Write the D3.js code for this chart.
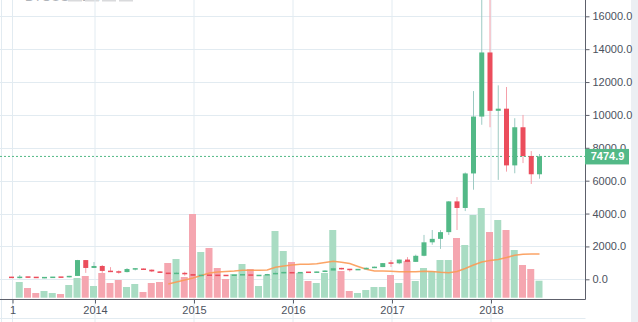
<!DOCTYPE html>
<html><head><meta charset="utf-8">
<script src="https://cdn.jsdelivr.net/npm/d3@7"></script>
<style>html,body{margin:0;padding:0;background:#fff;overflow:hidden}svg{display:block}</style>
</head><body>
<svg id="c" width="638" height="322"></svg>
<script>
// ---- data (monthly candles, Mar 2013 – Jul 2018) ----
const months = ["2013-03","2013-04","2013-05","2013-06","2013-07","2013-08","2013-09","2013-10","2013-11","2013-12",
"2014-01","2014-02","2014-03","2014-04","2014-05","2014-06","2014-07","2014-08","2014-09","2014-10",
"2014-11","2014-12","2015-01","2015-02","2015-03","2015-04","2015-05","2015-06","2015-07","2015-08",
"2015-09","2015-10","2015-11","2015-12","2016-01","2016-02","2016-03","2016-04","2016-05","2016-06",
"2016-07","2016-08","2016-09","2016-10","2016-11","2016-12","2017-01","2017-02","2017-03","2017-04",
"2017-05","2017-06","2017-07","2017-08","2017-09","2017-10","2017-11","2017-12","2018-01","2018-02",
"2018-03","2018-04","2018-05","2018-06","2018-07"];
const open = [140,95,140,130,97,106,135,125,205,1170, 690,810,510,450,440,625,640,585,480,387,
 338,378,320,217,254,244,236,230,263,284, 230,236,314,378,430,369,437,416,448,531,
 673,624,573,608,700,745,1000,975,1200,1060, 1430,2250,2460,2870,4740,4340,6440,9900,13800,10250,
 10380,6930,9250,7500,6390];
const high = [150,260,150,135,110,140,140,210,1180,1175, 1050,870,740,540,680,680,660,600,500,415,
 460,460,330,265,300,262,248,268,315,285, 245,330,500,470,465,445,440,470,550,780,
 700,630,630,720,770,990,1170,1200,1350,1500, 2700,3000,2990,4760,5000,6500,11450,19700,17200,11800,
 11700,9800,10000,7800,7620];
const low = [90,50,95,90,65,100,115,115,200,390, 680,390,440,340,420,540,570,440,380,285,
 320,220,170,200,240,210,225,220,253,200, 225,235,300,350,350,365,390,410,435,530,
 600,470,570,600,680,740,750,920,890,1060, 1400,2100,1850,2700,3000,4150,5450,9400,9250,6050,
 6550,6450,7070,5800,6120];
const close = [95,140,130,97,106,135,125,205,1170,690, 810,510,450,440,625,640,585,480,387,338,
 378,320,217,254,244,236,230,263,284,230, 236,314,378,430,369,437,416,448,531,673,
 624,573,608,700,745,985,975,1200,1060,1430, 2250,2460,2870,4740,4340,6440,9900,13800,10250,10380,
 6930,9250,7500,6390,7474.9];
const volume = [0,15.7,9.7,4.7,6.7,4.7,3.7,12.7,19.7,21.7, 11.7,24.7,14.7,17.7,10.7,13.7,5.7,14.7,15.7,34.7,
 38.7,20.7,83.7,45.7,49.7,29.7,18.7,23.7,33.7,28.7, 11.7,22.7,66.7,46.7,35.7,24.7,16.7,14.7,24.7,67.7,
 26.7,6.7,4.7,7.7,10.7,10.7,22.7,14.7,36.7,16.7, 29.7,26.7,37.7,37.7,59.7,52.7,82.7,89.7,65.7,77.7,
 67.7,47.7,32.7,28.7,17];
const volumeMA = [null,null,null,null,null,null,null,null,null,null, null,null,null,null,null,null,null,null,null,13.7,
 15.7,17.7,19.7,22.2,24.7,25.7,26.2,26.7,27.4,27.4, 27.4,27.7,30.4,31.7,32.7,33.4,33.4,34,35.2,36.4,
 35.4,34.2,31.2,28.4,26.7,26.7,26.4,25.9,26,26, 26.4,26.2,25.4,25,26.2,29.2,32.7,35.7,37.2,38.2,
 40.2,42.4,43.4,43.7,43.7];
const priceTicks = [0,2000,4000,6000,8000,10000,12000,14000,16000];
const timeTickIndex = [0,10,22,34,46,58];
const timeTickLabels = ["1","2014","2015","2016","2017","2018"];
const lastPrice = 7474.9;

// ---- drawing ----
const svg = d3.select("#c");
const plotR = 585.5, plotB = 299.5;
const UP = "#53b987", DOWN = "#eb4d5c";
const UPW = "#9dcac3", DOWNW = "#f5a0aa";
const UPV = "#a9dcc3", DOWNV = "#f5a6b0";
const GRID = "#e2ebf1", TXT = "#4c525e", AX = "#5d606b";
const FONT = "'Liberation Sans', Arial, sans-serif";

const x = d3.scaleLinear().domain([0, 64]).range([11.5, 11.5 + 64 * 8.25]);
const xg = d3.scaleLinear().domain([0, 64]).range([12.5, 12.5 + 64 * 8.25]);
const y = d3.scaleLinear().domain([0, 16000]).range([279.3, 16.3]);
const yv = d3.scaleLinear().domain([0, 100]).range([297.7, 197.7]);
const idx = d3.range(months.length);

svg.append("rect").attr("width", 638).attr("height", 322).attr("fill", "#fff");
svg.append("rect").attr("x", 631).attr("y", 0).attr("width", 7).attr("height", 322).attr("fill", "#eceff3");

// header remnants (cut off at top, as in the reference)
svg.append("text").attr("x", 25).attr("y", 1.2).attr("font-family", FONT).attr("font-size", 13)
  .attr("fill", "#b0b4ba").text("BTCUSD 1M");
[68, 85, 102, 119].forEach(v => svg.append("rect").attr("x", v).attr("y", -9).attr("width", 14)
  .attr("height", 10.5).attr("fill", "#d9dadc"));

// grid
const grid = svg.append("g");
grid.selectAll(".h").data(priceTicks).join("line")
  .attr("x1", 0).attr("x2", plotR).attr("y1", d => Math.round(y(d)) + 0.5).attr("y2", d => Math.round(y(d)) + 0.5)
  .attr("stroke", GRID);
grid.append("line").attr("x1", 0).attr("x2", plotR).attr("y1", 318.5).attr("y2", 318.5).attr("stroke", GRID);
grid.append("line").attr("x1", 1.5).attr("x2", 1.5).attr("y1", 0).attr("y2", 322).attr("stroke", GRID);
grid.selectAll(".v").data(timeTickIndex).join("line")
  .attr("x1", d => xg(d)).attr("x2", d => xg(d)).attr("y1", 0).attr("y2", 322).attr("stroke", GRID);

const clip = svg.append("clipPath").attr("id", "pc");
clip.append("rect").attr("x", 0).attr("y", 0).attr("width", plotR).attr("height", plotB);
const pane = svg.append("g").attr("clip-path", "url(#pc)");

// volume
pane.selectAll(".vol").data(idx).join("rect")
  .attr("x", i => x(i) - 4).attr("width", 7)
  .attr("y", i => yv(volume[i])).attr("height", i => yv(0) - yv(volume[i]))
  .attr("fill", i => close[i] >= open[i] ? UPV : DOWNV);

// volume MA
pane.append("path").datum(idx.filter(i => volumeMA[i] != null))
  .attr("d", d3.line().x(i => x(i)).y(i => yv(volumeMA[i])))
  .attr("fill", "none").attr("stroke", "#fb9a55").attr("stroke-width", 1.6).attr("stroke-opacity", 0.9);

// last price line
pane.append("line").attr("x1", 0).attr("x2", plotR).attr("y1", y(lastPrice)).attr("y2", y(lastPrice))
  .attr("stroke", UP).attr("stroke-dasharray", "2,2");

// candles
pane.selectAll(".wick").data(idx).join("line")
  .attr("x1", i => x(i)).attr("x2", i => x(i))
  .attr("y1", i => y(high[i])).attr("y2", i => y(low[i]))
  .attr("stroke", i => close[i] >= open[i] ? UPW : DOWNW).attr("stroke-width", 1);
pane.selectAll(".body").data(idx).join("rect")
  .attr("x", i => x(i) - 2.5).attr("width", 5)
  .attr("y", i => { const t = y(Math.max(open[i], close[i])), b = y(Math.min(open[i], close[i])); return b - t < 1.5 ? (t + b) / 2 - 0.75 : t; })
  .attr("height", i => Math.max(1.5, y(Math.min(open[i], close[i])) - y(Math.max(open[i], close[i]))))
  .attr("fill", i => close[i] >= open[i] ? UP : DOWN);

// right axis
const ra = svg.append("g").attr("transform", `translate(${plotR},0)`)
  .call(d3.axisRight(y).tickValues(priceTicks).tickFormat(d => d.toFixed(1)).tickSize(4).tickPadding(3));
ra.select(".domain").remove();
ra.selectAll(".tick line").attr("stroke", AX);
ra.selectAll("text").attr("fill", TXT).attr("font-family", FONT).attr("font-size", 11);
svg.append("line").attr("x1", plotR).attr("x2", plotR).attr("y1", 0).attr("y2", plotB).attr("stroke", AX);

// bottom axis
const ba = svg.append("g").attr("transform", `translate(0,${plotB})`)
  .call(d3.axisBottom(xg).tickValues(timeTickIndex).tickFormat((d, k) => timeTickLabels[k]).tickSize(4).tickPadding(3));
ba.select(".domain").remove();
ba.selectAll(".tick line").attr("stroke", AX);
ba.selectAll("text").attr("fill", TXT).attr("font-family", FONT).attr("font-size", 11);
svg.append("line").attr("x1", 0).attr("x2", plotR).attr("y1", plotB).attr("y2", plotB).attr("stroke", AX);

// last price label (covers the lower part of the 8000.0 label, as in the reference)
svg.append("rect").attr("x", 585).attr("y", y(lastPrice) - 7.5).attr("width", 44).attr("height", 15.5).attr("fill", UP);
svg.append("text").attr("x", 607.5).attr("y", y(lastPrice)).attr("dy", "0.36em").attr("text-anchor", "middle")
  .attr("font-family", FONT).attr("font-size", 11).attr("font-weight", "bold").attr("fill", "#fff")
  .text(lastPrice.toFixed(1));
</script>
</body></html>
